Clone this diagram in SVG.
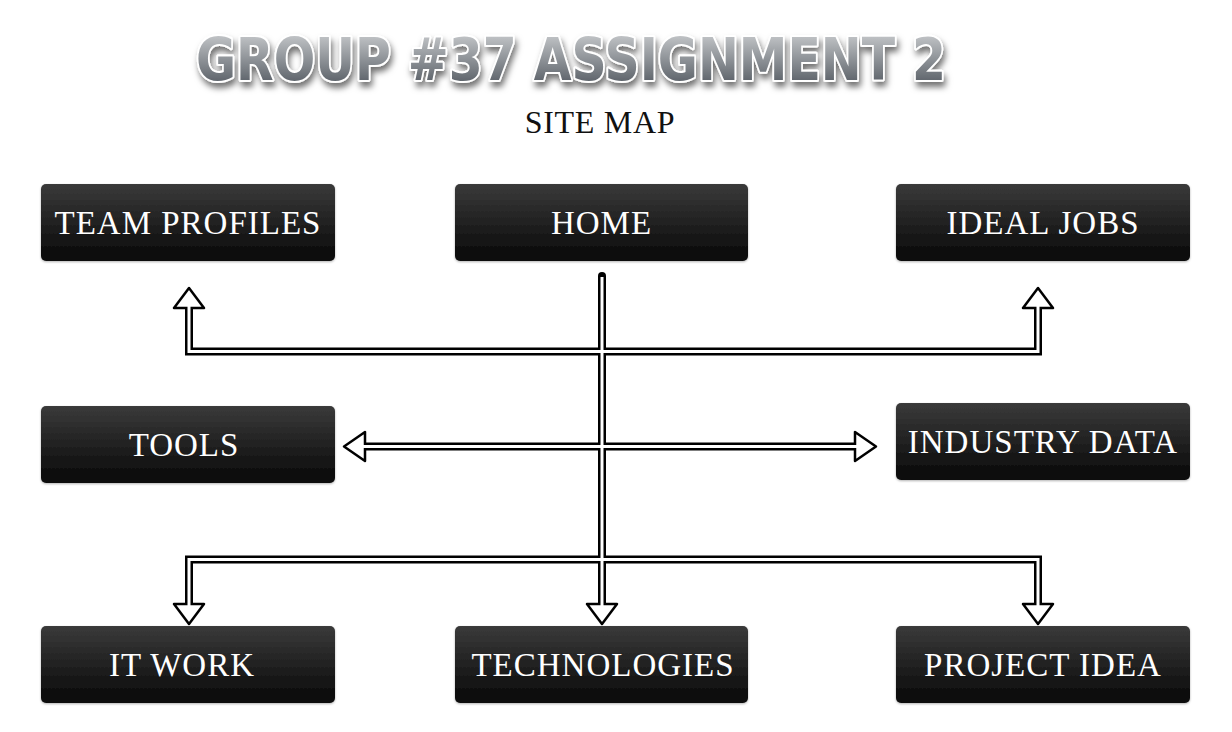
<svg xmlns="http://www.w3.org/2000/svg" width="1232" height="732" viewBox="0 0 1232 732">
<defs>
<linearGradient id="boxg" x1="0" y1="0" x2="0" y2="1">
<stop offset="0" stop-color="#3a3a3a"/>
<stop offset="1" stop-color="#080808"/>
</linearGradient>
<linearGradient id="titleg" x1="0" y1="0" x2="0" y2="1">
<stop offset="0" stop-color="#d4d6d8"/>
<stop offset="1" stop-color="#454c54"/>
</linearGradient>
<filter id="shadow" x="-5%" y="-30%" width="110%" height="170%">
<feDropShadow dx="2" dy="5" stdDeviation="3" flood-color="#000" flood-opacity="0.55"/>
</filter>
<filter id="boxshadow" x="-5%" y="-10%" width="110%" height="125%">
<feDropShadow dx="0" dy="1" stdDeviation="1" flood-color="#000" flood-opacity="0.3"/>
</filter>
</defs>
<style>
.box{fill:url(#boxg);filter:url(#boxshadow)}
.lbl{font-family:"Liberation Serif",serif;font-size:33px;fill:#fff;text-anchor:middle;letter-spacing:1px}
.outer{fill:none;stroke:#000;stroke-width:8}
.inner{fill:none;stroke:#fff;stroke-width:3}
.head{fill:#fff;stroke:#000;stroke-width:2.5;stroke-linejoin:round}
</style>
<rect width="1232" height="732" fill="#fff"/>
<g id="title">
<text x="196" y="80" textLength="750" lengthAdjust="spacingAndGlyphs" font-family="DejaVu Sans, sans-serif" font-weight="bold" font-size="58" fill="url(#titleg)" stroke="#fff" stroke-width="4" paint-order="stroke" stroke-linejoin="round" filter="url(#shadow)">GROUP #37 ASSIGNMENT 2</text>
<text x="600" y="133" font-family="Liberation Serif, serif" font-size="32" letter-spacing="0.7" text-anchor="middle" fill="#111">SITE MAP</text>
</g>
<g id="connectors">
<path class="outer" d="M602 276 V608" stroke-linecap="round"/>
<path class="outer" d="M189 304 V351.5 H1038 V304"/>
<path class="outer" d="M361 446.5 H859"/>
<path class="outer" d="M189 608 V559.5 H1038 V608"/>
<polygon class="head" points="189,288 204,308 174,308"/>
<polygon class="head" points="1038,288 1053,308 1023,308"/>
<polygon class="head" points="344,446.5 365,432 365,461"/>
<polygon class="head" points="876,446.5 855,432 855,461"/>
<polygon class="head" points="189,624 204,604 174,604"/>
<polygon class="head" points="602,624 617,604 587,604"/>
<polygon class="head" points="1038,624 1053,604 1023,604"/>
<path class="inner" d="M602 277 V607"/>
<path class="inner" d="M189 306 V351.5 H1038 V306"/>
<path class="inner" d="M363 446.5 H857"/>
<path class="inner" d="M189 606 V559.5 H1038 V606"/>
</g>
<g id="team-profiles"><rect class="box" x="41" y="184" width="294" height="77" rx="5"/><text class="lbl" x="188" y="234">TEAM PROFILES</text></g>
<g id="home"><rect class="box" x="455" y="184" width="293" height="77" rx="5"/><text class="lbl" x="601.5" y="234">HOME</text></g>
<g id="ideal-jobs"><rect class="box" x="896" y="184" width="294" height="77" rx="5"/><text class="lbl" x="1043" y="234">IDEAL JOBS</text></g>
<g id="tools"><rect class="box" x="41" y="406" width="294" height="77" rx="5"/><text class="lbl" x="184" y="456">TOOLS</text></g>
<g id="industry-data"><rect class="box" x="896" y="403" width="294" height="77" rx="5"/><text class="lbl" x="1043" y="453">INDUSTRY DATA</text></g>
<g id="it-work"><rect class="box" x="41" y="626" width="294" height="77" rx="5"/><text class="lbl" x="182" y="676">IT WORK</text></g>
<g id="technologies"><rect class="box" x="455" y="626" width="293" height="77" rx="5"/><text class="lbl" x="603" y="676">TECHNOLOGIES</text></g>
<g id="project-idea"><rect class="box" x="896" y="626" width="294" height="77" rx="5"/><text class="lbl" x="1043" y="676">PROJECT IDEA</text></g>
</svg>
